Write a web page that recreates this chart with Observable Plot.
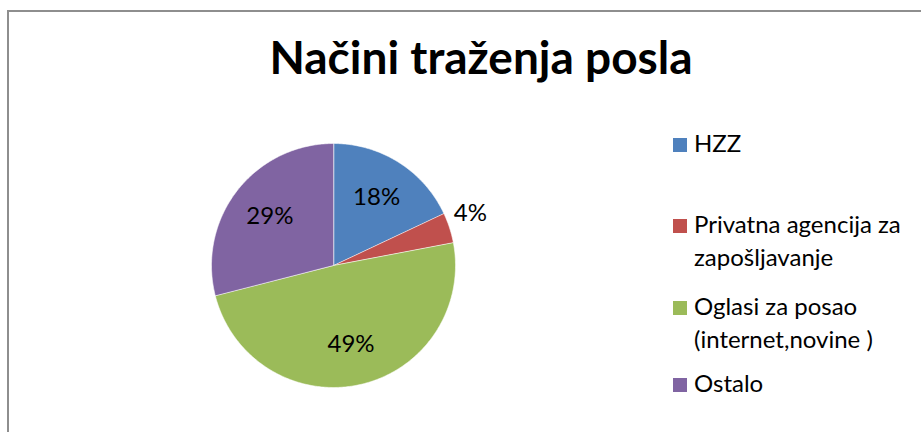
<!DOCTYPE html>
<html>
<head>
<meta charset="utf-8">
<script src="https://cdn.jsdelivr.net/npm/d3@7"></script>
<script src="https://cdn.jsdelivr.net/npm/@observablehq/plot@0.6"></script>
<style>
  html, body { margin: 0; padding: 0; background: #fff; }
  #wrap { position: relative; width: 921px; height: 432px; overflow: hidden; font-family: Lato, "Open Sans", sans-serif; }
  #frameTop { position: absolute; left: 8px; top: 10px; width: 940px; height: 2px; background: #8e8e8e; }
  #frameLeft { position: absolute; left: 7px; top: 10px; width: 2px; height: 440px; background: #8e8e8e; }
  #title { position: absolute; left: 0; width: 962px; top: 30px; text-align: center; font-weight: bold; font-size: 46px; line-height: 54px; color: #000; white-space: nowrap; }
  #chart { position: absolute; left: 0; top: 0; }
  .item { position: absolute; left: 673px; width: 248px; font-size: 24px; line-height: 33px; color: #000; }
  .sw { position: absolute; left: 0; width: 14px; height: 14px; }
  .lbl { position: absolute; left: 21px; width: 227px; white-space: normal; }
</style>
</head>
<body>
<div id="wrap">
  <div id="frameTop"></div>
  <div id="frameLeft"></div>
  <div id="chart"></div>
  <div id="title"></div>
  <div id="legend"></div>
</div>
<script>
const title = "Načini traženja posla";
const categories = ["HZZ", "Privatna agencija za zapošljavanje", "Oglasi za posao (internet,novine )", "Ostalo"];
const values = [18, 4, 49, 29];
const colors = ["#4F81BD", "#C0504D", "#9BBB59", "#8064A2"];
const labelText = ["18%", "4%", "49%", "29%"];

document.getElementById("title").textContent = title;

// pie geometry from data
const total = d3.sum(values);
const pie = d3.pie().sort(null).value(d => d)(values);
const slicePts = [];
pie.forEach((p, i) => {
  slicePts.push({name: categories[i], x: 0, y: 0});
  const n = Math.max(2, Math.ceil((p.endAngle - p.startAngle) / 0.01));
  for (let k = 0; k <= n; k++) {
    const a = p.startAngle + (p.endAngle - p.startAngle) * k / n;
    slicePts.push({name: categories[i], x: Math.sin(a), y: Math.cos(a)});
  }
});
const labels = pie.map((p, i) => {
  const a = (p.startAngle + p.endAngle) / 2;
  const outside = values[i] / total < 0.08;
  const r = outside ? 1.18 : 0.66;
  return {text: labelText[i], x: r * Math.sin(a), y: r * Math.cos(a), outside};
});

const chart = Plot.plot({
  width: 921,
  height: 432,
  marginLeft: 211,
  marginRight: 466,
  marginTop: 143,
  marginBottom: 45,
  x: {domain: [-1, 1], axis: null},
  y: {domain: [-1, 1], axis: null},
  color: {domain: categories, range: colors},
  style: {background: "transparent", overflow: "visible"},
  marks: [
    Plot.line(slicePts, {x: "x", y: "y", z: "name", fill: "name", stroke: "#ffffff", strokeWidth: 0.8, strokeOpacity: 0.7, curve: "linear-closed"}),
    Plot.text(labels.filter(d => !d.outside), {x: "x", y: "y", text: "text", fontSize: 24, fontFamily: "Lato, 'Open Sans', sans-serif", fill: "#000"}),
    Plot.text(labels.filter(d => d.outside), {x: "x", y: "y", text: "text", fontSize: 24, fontFamily: "Lato, 'Open Sans', sans-serif", fill: "#000", dy: -8})
  ]
});
document.getElementById("chart").appendChild(chart);

// legend (layout only)
const legendTops = [126, 207, 289, 366];
const legend = document.getElementById("legend");
categories.forEach((c, i) => {
  const item = document.createElement("div");
  item.className = "item";
  item.style.top = legendTops[i] + "px";
  const sw = document.createElement("div");
  sw.className = "sw";
  sw.style.background = colors[i];
  sw.style.top = "12px";
  const lb = document.createElement("div");
  lb.className = "lbl";
  lb.textContent = c;
  item.appendChild(sw);
  item.appendChild(lb);
  legend.appendChild(item);
});
</script>
</body>
</html>
